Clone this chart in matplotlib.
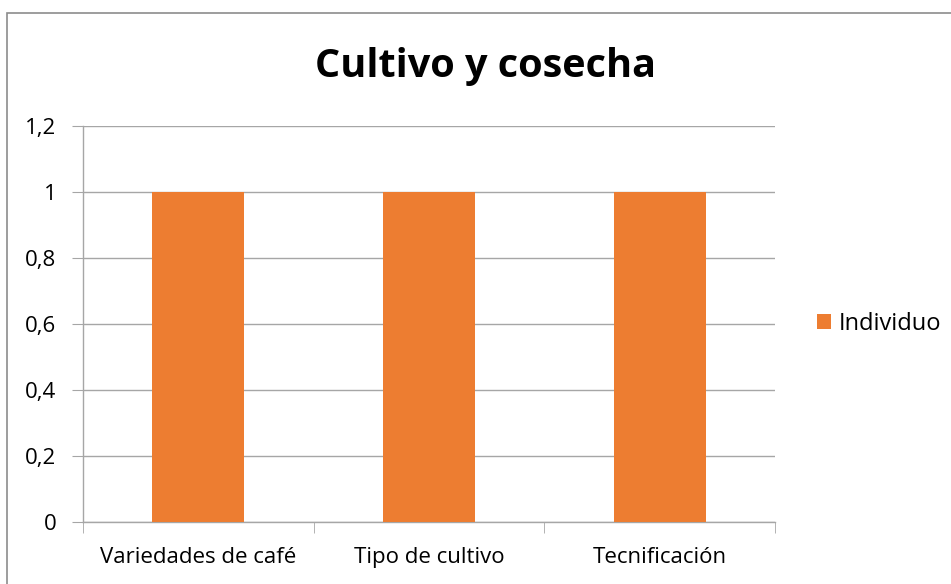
import numpy as np
import matplotlib.pyplot as plt
from matplotlib.patches import Rectangle

# data
categories = ["Variedades de café", "Tipo de cultivo", "Tecnificación"]
individuo = [1, 1, 1]
yticks = [0, 0.2, 0.4, 0.6, 0.8, 1, 1.2]
ytick_labels = ["0", "0,2", "0,4", "0,6", "0,8", "1", "1,2"]

plt.rcParams["font.family"] = ["Open Sans", "DejaVu Sans"]

W, H = 951, 584
fig = plt.figure(figsize=(W / 100, H / 100), dpi=100)

# outer chart border (only top/left visible in the reference)
fig.patches.append(Rectangle((7 / W, -0.1), 1.2, 1 - 13 / H + 0.1,
                             transform=fig.transFigure, fill=False,
                             edgecolor="#8c8c8c", linewidth=1.2))

ax = fig.add_axes([83 / W, (H - 522) / H, (775 - 83) / W, (522 - 126) / H])

x = np.arange(len(categories))
ax.bar(x, individuo, width=0.4, color="#ED7D31", label="Individuo", zorder=3)

ax.set_xlim(-0.5, len(categories) - 0.5)
ax.set_ylim(0, 1.2)
ax.set_yticks(yticks)
ax.set_yticklabels(ytick_labels)
ax.set_xticks(x)
ax.set_xticklabels(categories)
ax.set_xticks(np.arange(len(categories) + 1) - 0.5, minor=True)

gray = "#a6a6a6"
ax.grid(axis="y", color=gray, linewidth=1, zorder=0)
for s in ["top", "right"]:
    ax.spines[s].set_visible(False)
ax.spines["left"].set_color(gray)
ax.spines["bottom"].set_color(gray)
ax.spines["left"].set_linewidth(1)
ax.spines["bottom"].set_linewidth(1)

ax.tick_params(axis="y", length=8, color=gray, labelsize=16, pad=11)
ax.tick_params(axis="x", which="major", length=0, labelsize=16, pad=18)
ax.tick_params(axis="x", which="minor", length=8, color=gray)

fig.text(485 / W, 1 - 67 / H, "Cultivo y cosecha", fontsize=28.5,
         fontweight="bold", ha="center", va="center")

ax.legend(loc="center left", bbox_to_anchor=(1.06, 0.5), frameon=False,
          fontsize=17, handlelength=0.6, handleheight=0.6, handletextpad=0.35,
          borderpad=0, borderaxespad=0)

fig.savefig("out.png", dpi=100)
